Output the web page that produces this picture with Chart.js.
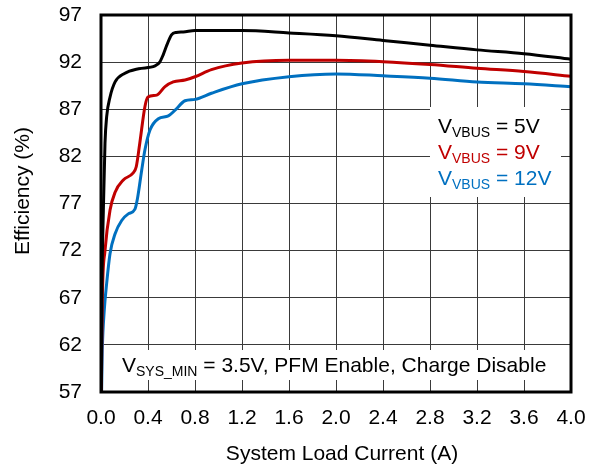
<!DOCTYPE html>
<html>
<head>
<meta charset="utf-8">
<script src="https://cdn.jsdelivr.net/npm/chart.js@4.4.1/dist/chart.umd.min.js"></script>
<style>
    html, body { margin: 0; padding: 0; background: #fff; }
    #chart { display: block; }
</style>
</head>
<body>
<canvas id="chart" width="595" height="472"></canvas>
<script>
const xTicks = [0.0, 0.4, 0.8, 1.2, 1.6, 2.0, 2.4, 2.8, 3.2, 3.6, 4.0];
const yTicks = [57, 62, 67, 72, 77, 82, 87, 92, 97];

// VBUS = 5V
const current5 = [0.002, 0.008, 0.02, 0.034, 0.048, 0.077, 0.12, 0.2, 0.32, 0.46, 0.5, 0.53, 0.56, 0.6, 0.64, 0.7, 0.8, 1.2, 1.6, 2.0, 2.4, 2.8, 3.2, 3.6, 4.0];
const eff5 = [57, 68, 76.3, 83.4, 86.2, 88.3, 89.9, 90.8, 91.3, 91.6, 92.0, 92.8, 93.8, 94.9, 95.15, 95.2, 95.35, 95.35, 95.1, 94.8, 94.3, 93.8, 93.3, 92.9, 92.3];

// VBUS = 9V
const current9 = [0.003, 0.011, 0.034, 0.077, 0.12, 0.19, 0.27, 0.3, 0.33, 0.374, 0.4, 0.474, 0.545, 0.615, 0.715, 0.8, 0.94, 1.2, 1.6, 2.0, 2.4, 2.8, 3.2, 3.6, 4.0];
const eff9 = [57, 66.7, 72.0, 76.3, 78.2, 79.5, 80.2, 80.9, 83.4, 87.3, 88.3, 88.5, 89.4, 89.9, 90.1, 90.45, 91.2, 91.9, 92.2, 92.2, 92.05, 91.75, 91.35, 91.0, 90.5];

// VBUS = 12V
const current12 = [0.005, 0.011, 0.028, 0.048, 0.077, 0.12, 0.176, 0.232, 0.289, 0.31, 0.346, 0.374, 0.417, 0.488, 0.573, 0.63, 0.715, 0.8, 0.94, 1.2, 1.6, 2.0, 2.4, 2.8, 3.2, 3.6, 4.0];
const eff12 = [57, 61.4, 65.7, 68.5, 71.7, 73.8, 75.2, 75.9, 76.4, 77.5, 80.5, 82.7, 84.8, 86.0, 86.3, 86.9, 87.9, 88.05, 88.7, 89.7, 90.45, 90.75, 90.55, 90.3, 89.9, 89.7, 89.4];

const FONT = "'Liberation Sans', Arial, sans-serif";
const BLACK = '#000000';
const RED = '#c00000';
const BLUE = '#0070c0';

function toPoints(xs, ys) {
    return xs.map((x, i) => ({x: x, y: ys[i]}));
}

function drawSubText(ctx, x, y, main, sub, rest, color) {
    ctx.fillStyle = color;
    ctx.textAlign = 'left';
    ctx.textBaseline = 'alphabetic';
    ctx.font = '21px ' + FONT;
    ctx.fillText(main, x, y);
    x += ctx.measureText(main).width;
    ctx.font = '14px ' + FONT;
    ctx.fillText(sub, x, y + 4);
    x += ctx.measureText(sub).width;
    ctx.font = '21px ' + FONT;
    ctx.fillText(rest, x, y);
}

const notesPlugin = {
    id: 'notes',
    beforeDatasetsDraw(chart) {
        const ctx = chart.ctx;
        ctx.save();
        ctx.fillStyle = '#ffffff';
        ctx.fillRect(430, 107, 131, 90);
        ctx.fillRect(104, 350, 463, 30);
        drawSubText(ctx, 438, 133, 'V', 'VBUS', ' = 5V', BLACK);
        drawSubText(ctx, 438, 159, 'V', 'VBUS', ' = 9V', RED);
        drawSubText(ctx, 438, 185, 'V', 'VBUS', ' = 12V', BLUE);
        drawSubText(ctx, 122, 372, 'V', 'SYS_MIN', ' = 3.5V, PFM Enable, Charge Disable', BLACK);
        ctx.restore();
    },
    afterDraw(chart) {
        const ctx = chart.ctx;
        const a = chart.chartArea;
        ctx.save();
        ctx.strokeStyle = '#000';
        ctx.lineWidth = 3;
        ctx.strokeRect(a.left, a.top, a.right - a.left, a.bottom - a.top);

        ctx.fillStyle = '#000';
        ctx.font = '21px ' + FONT;
        ctx.textAlign = 'center';
        ctx.textBaseline = 'alphabetic';
        ctx.fillText('System Load Current (A)', 342, 460);

        ctx.translate(29, 191);
        ctx.rotate(-Math.PI / 2);
        ctx.fillText('Efficiency (%)', 0, 0);
        ctx.restore();
    }
};

const ctx = document.getElementById('chart').getContext('2d');
const chart = new Chart(ctx, {
    type: 'line',
    data: {
        datasets: [
            { label: 'VVBUS = 5V', data: toPoints(current5, eff5), borderColor: BLACK },
            { label: 'VVBUS = 9V', data: toPoints(current9, eff9), borderColor: RED },
            { label: 'VVBUS = 12V', data: toPoints(current12, eff12), borderColor: BLUE }
        ].map(d => Object.assign(d, {
            borderWidth: 3,
            pointRadius: 0,
            fill: false,
            cubicInterpolationMode: 'monotone'
        }))
    },
    options: {
        responsive: false,
        devicePixelRatio: 1,
        animation: false,
        layout: {
            padding: 0
        },
        plugins: {
            legend: { display: false },
            tooltip: { enabled: false }
        },
        scales: {
            x: {
                type: 'linear',
                min: 0,
                max: 4,
                afterBuildTicks: s => { s.ticks = xTicks.map(v => ({value: v})); },
                afterFit: s => {
                    s.height = 80;
                    s.paddingLeft = 0;
                    s.paddingRight = 24;
                },
                ticks: {
                    autoSkip: false,
                    maxRotation: 0,
                    padding: 14,
                    color: '#000',
                    font: { family: FONT, size: 21 },
                    callback: v => Number(v).toFixed(1)
                },
                grid: { color: '#3a3a3a', lineWidth: 1, drawTicks: false },
                border: { display: false }
            },
            y: {
                type: 'linear',
                min: 57,
                max: 97,
                afterBuildTicks: s => { s.ticks = yTicks.map(v => ({value: v})); },
                afterFit: s => {
                    s.width = 101;
                    s.paddingTop = 15;
                    s.paddingBottom = 0;
                },
                ticks: {
                    autoSkip: false,
                    padding: 19,
                    color: '#000',
                    font: { family: FONT, size: 21 }
                },
                grid: { color: '#3a3a3a', lineWidth: 1, drawTicks: false },
                border: { display: false }
            }
        }
    },
    plugins: [notesPlugin]
});
</script>
</body>
</html>
